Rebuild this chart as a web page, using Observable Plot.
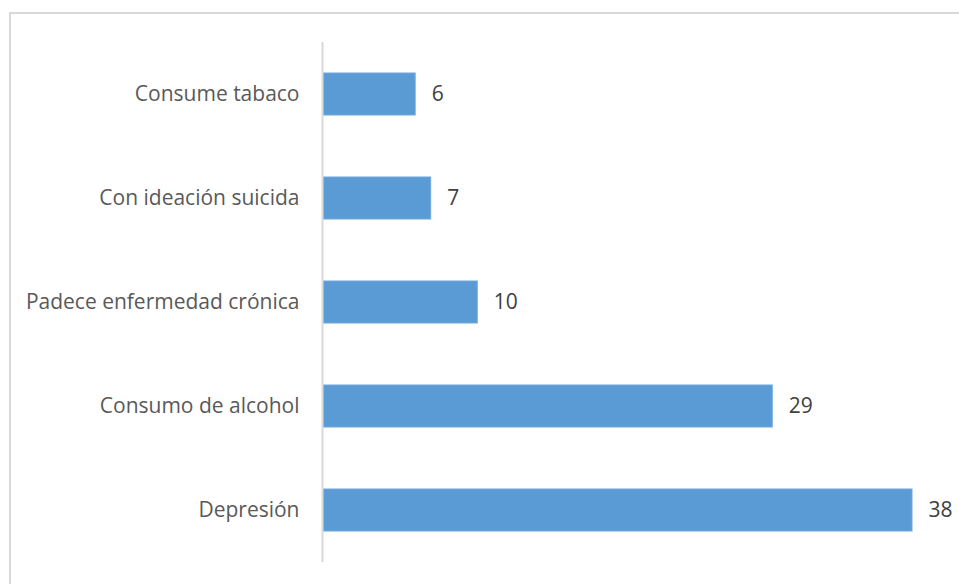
<!DOCTYPE html>
<html>
<head>
<meta charset="utf-8">
<script src="https://cdn.jsdelivr.net/npm/d3@7"></script>
<script src="https://cdn.jsdelivr.net/npm/@observablehq/plot@0.6"></script>
<style>
  html, body { margin: 0; padding: 0; background: #fff; overflow: hidden; width: 959px; height: 584px; }
  #frame { position: absolute; left: 9px; top: 12px; width: 1000px; height: 1000px; border: 2px solid #d9d9d9; box-sizing: border-box; }
  #chart { position: absolute; left: 0; top: 0; }
</style>
</head>
<body>
<div id="frame"></div>
<div id="chart"></div>
<script>
const categories = ["Consume tabaco", "Con ideación suicida", "Padece enfermedad crónica", "Consumo de alcohol", "Depresión"];
const values = [6, 7, 10, 29, 38];

const data = categories.map((c, i) => ({category: c, value: values[i]}));

const chart = Plot.plot({
  width: 959,
  height: 584,
  marginLeft: 322,
  marginRight: 47,
  marginTop: 42,
  marginBottom: 22,
  style: {fontFamily: "'Open Sans', sans-serif", fontSize: "21px", background: "transparent"},
  x: {domain: [0, 38], axis: null},
  y: {domain: categories, paddingInner: 0.6, paddingOuter: 0.3, label: null, tickSize: 0, tickPadding: 23},
  marks: [
    Plot.barX(data, {x: "value", y: "category", fill: "#5B9BD5", stroke: "#6FA8DC", strokeWidth: 1, insetLeft: 1}),
    Plot.ruleX([0], {stroke: "#d9d9d9", strokeWidth: 2}),
    Plot.text(data, {x: "value", y: "category", text: d => String(d.value), textAnchor: "start", dx: 16, fill: "#404040", fontSize: 21}),
    Plot.axisY({tickSize: 0, tickPadding: 23, label: null, color: "#595959", fontSize: 21})
  ]
});
document.getElementById("chart").appendChild(chart);
</script>
</body>
</html>
